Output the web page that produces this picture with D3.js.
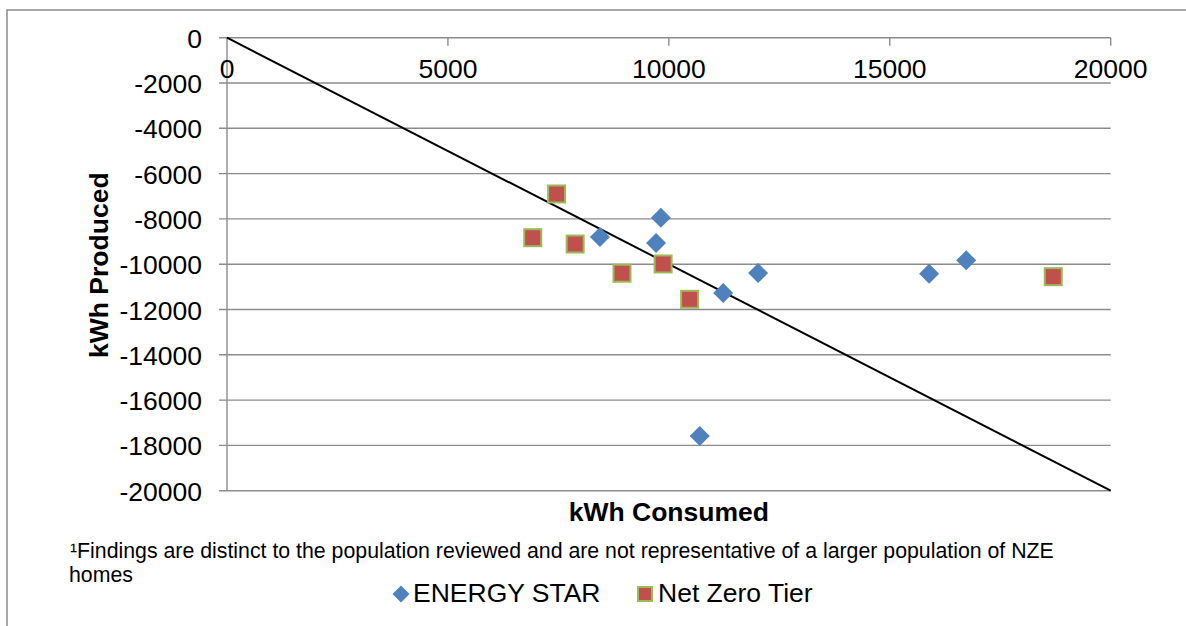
<!DOCTYPE html>
<html>
<head>
<meta charset="utf-8">
<script src="https://cdn.jsdelivr.net/npm/d3@7"></script>
<style>
  body { margin: 0; background: #fff; }
  svg { display: block; font-family: "Liberation Sans", Arial, sans-serif; }
</style>
</head>
<body>
<div id="chart"></div>
<script>
// kWh consumed (x) vs kWh produced (y)
var energyStarX = [8440, 9820, 9710, 11230, 12020, 10700, 15890, 16730];
var energyStarY = [-8800, -7950, -9060, -11270, -10390, -17590, -10420, -9830];
var netZeroX = [7460, 6920, 7880, 8940, 9870, 10470, 18700];
var netZeroY = [-6900, -8830, -9110, -10400, -9990, -11550, -10550];
var seriesNames = ["ENERGY STAR", "Net Zero Tier"];
var xTicks = [0, 5000, 10000, 15000, 20000];
var yTicks = [0, -2000, -4000, -6000, -8000, -10000, -12000, -14000, -16000, -18000, -20000];
var diagonal = [[0, 0], [20000, -20000]];

var width = 1186, height = 626;
var gridColor = "#8c8c8c";
var fs = 26.5;

var svg = d3.select("#chart").append("svg")
    .attr("width", width)
    .attr("height", height);

// outer chart border (only left and top are inside the window)
svg.append("rect")
    .attr("x", 7).attr("y", 10)
    .attr("width", 1300).attr("height", 800)
    .attr("fill", "none")
    .attr("stroke", gridColor)
    .attr("stroke-width", 1.5);

var x = d3.scaleLinear().domain([0, 20000]).range([227, 1110.7]);
var y = d3.scaleLinear().domain([0, -20000]).range([37.7, 490.7]);

// horizontal gridlines with small ticks to the left of the axis
svg.append("g")
    .selectAll("line")
    .data(yTicks)
    .enter().append("line")
    .attr("x1", x(0) - 8)
    .attr("x2", x(20000))
    .attr("y1", d => y(d))
    .attr("y2", d => y(d))
    .attr("stroke", gridColor)
    .attr("stroke-width", 1.4);

// vertical axis line
svg.append("line")
    .attr("x1", x(0)).attr("x2", x(0))
    .attr("y1", y(0)).attr("y2", y(-20000))
    .attr("stroke", gridColor)
    .attr("stroke-width", 1.4);

// x ticks hang down from the top axis
svg.append("g")
    .selectAll("line")
    .data(xTicks.slice(1))
    .enter().append("line")
    .attr("x1", d => x(d)).attr("x2", d => x(d))
    .attr("y1", y(0)).attr("y2", y(0) + 8)
    .attr("stroke", gridColor)
    .attr("stroke-width", 1.4);

// y tick labels
svg.append("g")
    .selectAll("text")
    .data(yTicks)
    .enter().append("text")
    .attr("x", 202)
    .attr("y", d => y(d))
    .attr("dy", "0.38em")
    .attr("text-anchor", "end")
    .attr("font-size", fs)
    .text(d => d);

// x tick labels
svg.append("g")
    .selectAll("text")
    .data(xTicks)
    .enter().append("text")
    .attr("x", d => x(d))
    .attr("y", 78)
    .attr("text-anchor", "middle")
    .attr("font-size", fs)
    .text(d => d);

// axis titles
svg.append("text")
    .attr("x", (x(0) + x(20000)) / 2)
    .attr("y", 521)
    .attr("text-anchor", "middle")
    .attr("font-size", fs)
    .attr("font-weight", "bold")
    .text("kWh Consumed");

svg.append("text")
    .attr("transform", "translate(108," + ((y(0) + y(-20000)) / 2 + 1) + ") rotate(-90)")
    .attr("text-anchor", "middle")
    .attr("font-size", fs)
    .attr("font-weight", "bold")
    .text("kWh Produced");

// diagonal break-even line
svg.append("path")
    .datum(diagonal)
    .attr("d", d3.line().x(d => x(d[0])).y(d => y(d[1])))
    .attr("stroke", "#000")
    .attr("stroke-width", 2)
    .attr("fill", "none");

// ENERGY STAR diamonds
var esData = energyStarX.map((v, i) => ({ x: v, y: energyStarY[i] }));
svg.append("g")
    .selectAll("path")
    .data(esData)
    .enter().append("path")
    .attr("transform", d => "translate(" + x(d.x) + "," + y(d.y) + ")")
    .attr("d", "M0,-10L10,0L0,10L-10,0Z")
    .attr("fill", "#4f81bd");

// Net Zero Tier squares
var nzData = netZeroX.map((v, i) => ({ x: v, y: netZeroY[i] }));
svg.append("g")
    .selectAll("rect")
    .data(nzData)
    .enter().append("rect")
    .attr("x", d => x(d.x) - 8.5)
    .attr("y", d => y(d.y) - 8.5)
    .attr("width", 17)
    .attr("height", 17)
    .attr("fill", "#c0504d")
    .attr("stroke", "#9bbb59")
    .attr("stroke-width", 2);

// footnote
var note = svg.append("text")
    .attr("font-size", 21.3)
    .attr("fill", "#000");
note.append("tspan")
    .attr("x", 70).attr("y", 558)
    .text("\u00b9Findings are distinct to the population reviewed and are not representative of a larger population of NZE");
note.append("tspan")
    .attr("x", 69).attr("y", 582)
    .text("homes");

// legend
var legend = svg.append("g");
legend.append("path")
    .attr("transform", "translate(401,594)")
    .attr("d", "M0,-8.5L8.5,0L0,8.5L-8.5,0Z")
    .attr("fill", "#4f81bd");
legend.append("text")
    .attr("x", 413).attr("y", 602)
    .attr("font-size", fs)
    .text(seriesNames[0]);
legend.append("rect")
    .attr("x", 638).attr("y", 587)
    .attr("width", 14).attr("height", 14)
    .attr("fill", "#c0504d")
    .attr("stroke", "#9bbb59")
    .attr("stroke-width", 2);
legend.append("text")
    .attr("x", 658).attr("y", 602)
    .attr("font-size", fs)
    .text(seriesNames[1]);
</script>
</body>
</html>
